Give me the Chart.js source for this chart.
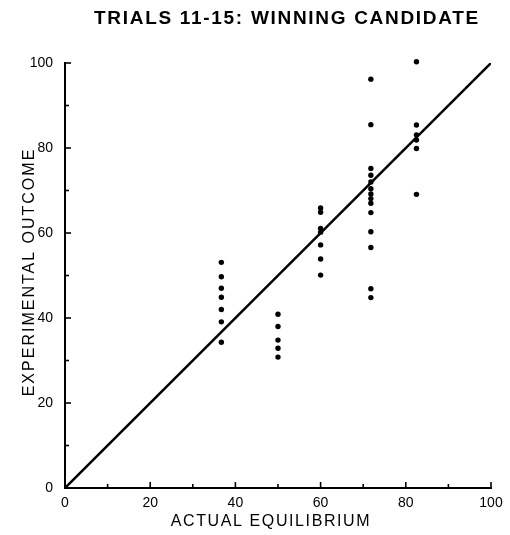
<!DOCTYPE html>
<html>
<head>
<meta charset="utf-8">
<script src="https://cdn.jsdelivr.net/npm/chart.js@4/dist/chart.umd.min.js"></script>
<style>
  html, body { margin: 0; padding: 0; background: #fff; }
  #wrap { width: 510px; height: 535px; position: relative; }
</style>
</head>
<body>
<div id="wrap"><canvas id="c" width="510" height="535"></canvas></div>
<script>
// ---- data ----
const chartTitle = "TRIALS 11-15: WINNING CANDIDATE";
const xAxisTitle = "ACTUAL EQUILIBRIUM";
const yAxisTitle = "EXPERIMENTAL OUTCOME";
const xTickLabels = [0, 20, 40, 60, 80, 100];
const yTickLabels = [0, 20, 40, 60, 80, 100];

const equilibria = [36.7, 50, 60, 71.8, 82.5];
const outcomesAt37 = [53.1, 49.7, 47.0, 44.9, 42.0, 39.1, 34.3];
const outcomesAt50 = [40.9, 38.0, 34.8, 32.9, 30.8];
const outcomesAt60 = [65.9, 64.9, 61.1, 60.2, 57.2, 53.9, 50.1];
const outcomesAt72 = [96.2, 85.5, 75.2, 73.6, 72.0, 70.4, 69.2, 68.1, 67.0, 64.8, 60.3, 56.6, 46.9, 44.8];
const outcomesAt82 = [100.3, 85.4, 83.1, 81.9, 79.9, 69.1];
const equalityLineX = [0, 100];
const equalityLineY = [0, 100];

const outcomeGroups = [outcomesAt37, outcomesAt50, outcomesAt60, outcomesAt72, outcomesAt82];
const scatterPoints = [];
outcomeGroups.forEach((grp, i) => grp.forEach(v => scatterPoints.push({ x: equilibria[i], y: v })));
const linePoints = equalityLineX.map((x, i) => ({ x: x, y: equalityLineY[i] }));

const FONT = '"Liberation Sans", "DejaVu Sans", sans-serif';

const decorations = {
  id: 'decorations',
  afterDraw(chart) {
    const ctx = chart.ctx;
    const xs = chart.scales.x, ys = chart.scales.y;
    const area = chart.chartArea;
    ctx.save();
    ctx.strokeStyle = '#000';
    ctx.lineWidth = 1.6;
    for (let v = 10; v <= 100; v += 10) {
      const len = (v % 20 === 0) ? 6 : 4;
      const px = xs.getPixelForValue(v);
      ctx.beginPath(); ctx.moveTo(px, area.bottom); ctx.lineTo(px, area.bottom - len); ctx.stroke();
      const py = ys.getPixelForValue(v);
      ctx.beginPath(); ctx.moveTo(area.left, py); ctx.lineTo(area.left + len, py); ctx.stroke();
    }
    ctx.fillStyle = '#000';
    ctx.textAlign = 'center';
    ctx.textBaseline = 'middle';
    // chart title
    ctx.font = 'bold 19px ' + FONT;
    try { ctx.letterSpacing = '1.7px'; } catch (e) {}
    ctx.fillText(chartTitle, 287, 19);
    // axis titles
    ctx.font = '16px ' + FONT;
    try { ctx.letterSpacing = '1.6px'; } catch (e) {}
    ctx.fillText(xAxisTitle, 271, 522);
    ctx.save();
    ctx.translate(30, 272);
    ctx.rotate(-Math.PI / 2);
    try { ctx.letterSpacing = '2px'; } catch (e) {}
    ctx.fillText(yAxisTitle, 0, 0);
    ctx.restore();
    ctx.restore();
  }
};

new Chart(document.getElementById('c'), {
  type: 'scatter',
  data: {
    datasets: [
      {
        type: 'line',
        data: linePoints,
        borderColor: '#000',
        borderWidth: 2.5,
        pointRadius: 0,
        fill: false,
        tension: 0
      },
      {
        data: scatterPoints,
        backgroundColor: '#000',
        borderColor: '#000',
        pointRadius: 2.7,
        borderWidth: 0,
        clip: false
      }
    ]
  },
  options: {
    responsive: false,
    animation: false,
    layout: { padding: { top: 63, right: 19, bottom: 0, left: 0 } },
    plugins: { legend: { display: false }, tooltip: { enabled: false }, title: { display: false } },
    scales: {
      x: {
        type: 'linear', min: 0, max: 100,
        afterBuildTicks: s => { s.ticks = xTickLabels.map(v => ({ value: v })); },
        afterFit: s => { s.height = 47; },
        grid: { display: true, drawOnChartArea: false, drawTicks: false },
        border: { display: true, color: '#000', width: 2 },
        ticks: { color: '#000', padding: 7, font: { family: FONT, size: 14 }, maxRotation: 0 },
        title: { display: false }
      },
      y: {
        type: 'linear', min: 0, max: 100,
        afterBuildTicks: s => { s.ticks = yTickLabels.map(v => ({ value: v })); },
        afterFit: s => { s.width = 65; },
        grid: { display: true, drawOnChartArea: false, drawTicks: false },
        border: { display: true, color: '#000', width: 2 },
        ticks: { color: '#000', padding: 12, font: { family: FONT, size: 14 } },
        title: { display: false }
      }
    }
  },
  plugins: [decorations]
});
</script>
</body>
</html>
